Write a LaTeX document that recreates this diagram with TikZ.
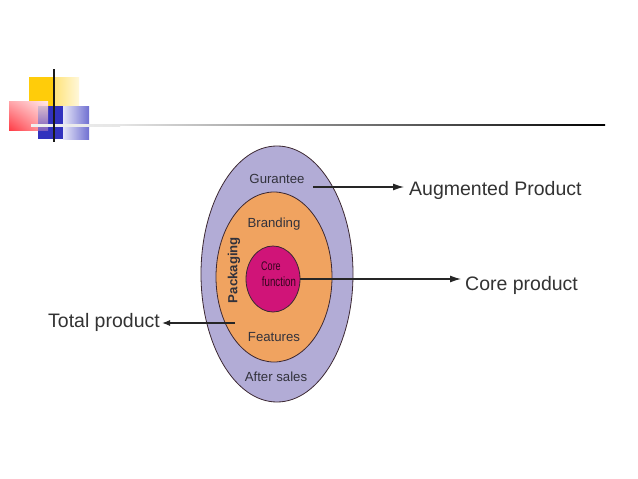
\documentclass[tikz,border=0pt]{standalone}
\usepackage{fontspec}
\setmainfont{Liberation Sans}
\usetikzlibrary{arrows.meta,shapes.geometric,shadings}
\definecolor{outerc}{RGB}{178,172,214}
\definecolor{midc}{RGB}{240,163,96}
\definecolor{innerc}{RGB}{208,20,120}
\definecolor{edgec}{RGB}{60,40,50}
\definecolor{txtc}{RGB}{50,50,60}
\definecolor{bluec}{RGB}{50,50,190}
\definecolor{yelc}{RGB}{255,204,10}
\definecolor{redc}{RGB}{255,60,70}
\definecolor{mixtop}{RGB}{215,185,205}
\definecolor{mixbot}{RGB}{125,95,190}
\tikzset{
  ring/.style={draw=edgec,line width=0.8pt},
  inlabel/.style={text=txtc,font=\fontsize{13.2}{15}\selectfont,inner sep=0pt},
  corelabel/.style={inner sep=0pt,xscale=0.72,text=black!75!innerc},
  outlabel/.style={text=black!80,font=\fontsize{19.5}{22}\selectfont,inner sep=0pt},
  link/.style={draw=black!85,line width=1.2pt,-{Latex[length=11pt,width=7pt]}},
}
\begin{document}
\begin{tikzpicture}[x=1pt,y=-1pt]
\useasboundingbox (0,0) rectangle (638,479);
\fill[white] (0,0) rectangle (638,479);
% decoration
\fill[yelc] (29,77) rectangle (54,108);
\shade[left color=yelc!55,right color=yelc!15] (54,77) rectangle (79,108);
\shade[lower left=redc,upper right=redc!12,lower right=redc!45,upper left=redc!45] (9,101) rectangle (48,130);
\fill[bluec] (38,106) rectangle (63,139);
\shade[top color=mixtop,bottom color=mixbot] (38,106) rectangle (48,130);
\shade[left color=bluec!12,right color=bluec!70] (63,106) rectangle (89,139);
\shade[left color=black!6,right color=black!10] (31,124) rectangle (120,126);
\shade[left color=black!10,right color=black] (120,124.5) rectangle (605,125.8);
\draw[black!90,line width=1.7pt] (54,69) -- (54,142);
% rings
\node[ring,fill=outerc,ellipse,minimum width=152pt,minimum height=256pt,inner sep=0pt] (outer) at (277,274) {};
\node[ring,fill=midc,ellipse,minimum width=116pt,minimum height=170pt,inner sep=0pt] (mid) at (274,277) {};
\node[ring,fill=innerc,ellipse,minimum width=54pt,minimum height=66pt,inner sep=0pt] (inner) at (273,279) {};
% labels inside
\node[inlabel] (gur) at (277,179) {Gurantee};
\node[inlabel] (bra) at (274,224) {Branding};
\node[inlabel,rotate=90,font=\fontsize{13.2}{15}\selectfont\bfseries] (pack) at (234,270) {Packaging};
\node[corelabel,font=\fontsize{12.5}{12}\selectfont] (corel) at (271,266) {Core};
\node[corelabel,font=\fontsize{13.5}{12}\selectfont] (func) at (279,282) {function};
\node[inlabel] (fea) at (274,337) {Features};
\node[inlabel] (aft) at (276,377) {After sales};
% outer labels
\node[outlabel,anchor=west] (aug) at (409,190) {Augmented Product};
\node[outlabel,anchor=west] (cor) at (465,285) {Core product};
\node[outlabel,anchor=east] (tot) at (160,322) {Total product};
% connectors
\coordinate (a0) at (313,187);
\coordinate (a1) at (404,187);
\coordinate (c0) at (300,279);
\coordinate (c1) at (461,279);
\coordinate (t0) at (235,323);
\coordinate (t1) at (162,323);
\draw[link] (a0) -- (a1);
\draw[link] (c0) -- (c1);
\draw[draw=black!85,line width=1.2pt,-{Latex[length=8pt,width=6pt]}] (t0) -- (t1);
\end{tikzpicture}
\end{document}
